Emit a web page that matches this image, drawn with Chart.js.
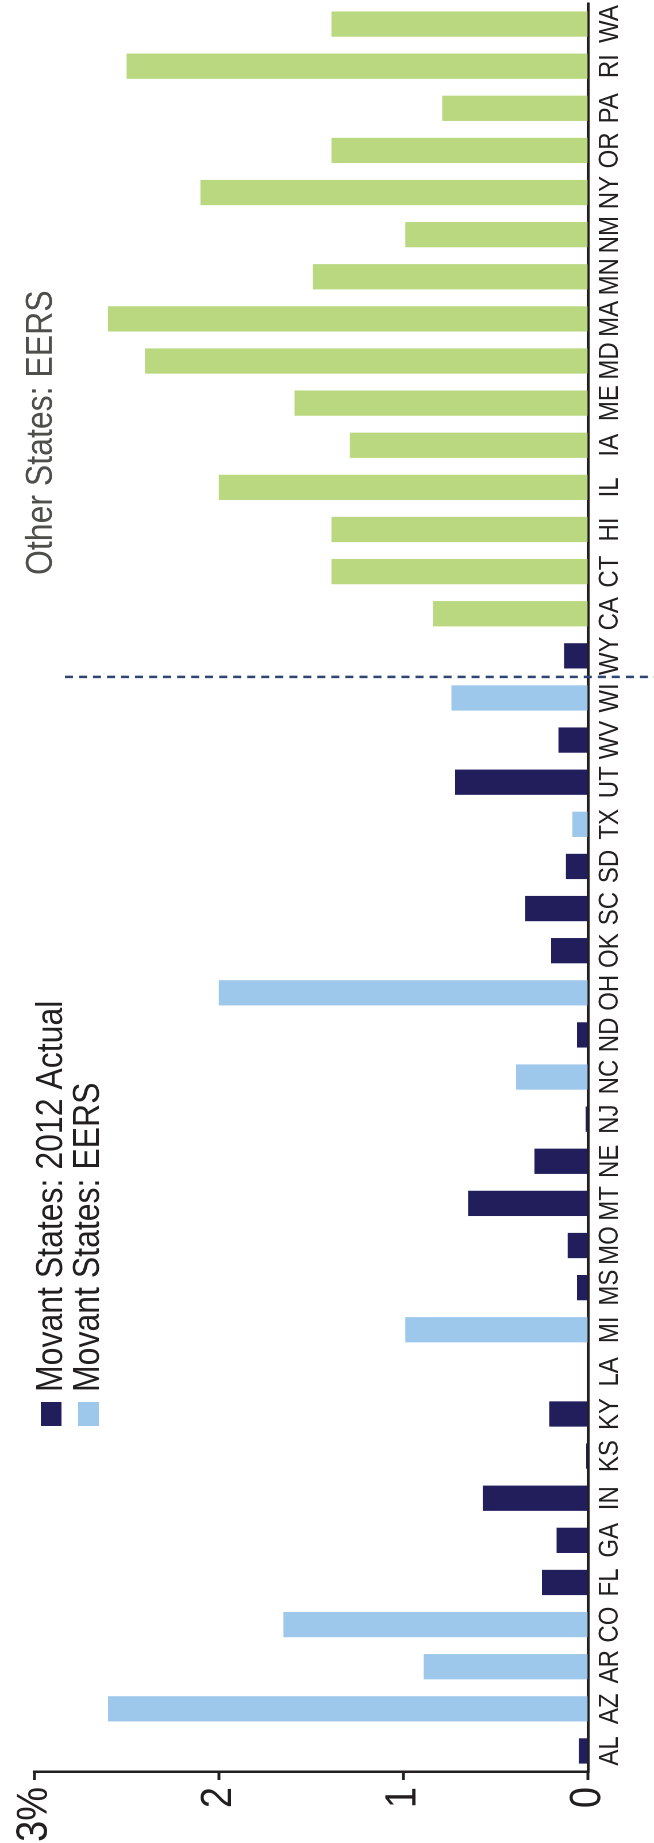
<!DOCTYPE html>
<html>
<head>
<meta charset="utf-8">
<title>Movant states vs EERS</title>
<script src="https://cdn.jsdelivr.net/npm/chart.js@4.4.0/dist/chart.umd.min.js"></script>
<style>
  body { margin: 0; background: #fff; overflow: hidden; }
  /* chart is drawn landscape, then turned on its side to fit the tall page */
  #wrap {
    position: absolute; left: 0; top: 0;
    width: 1843px; height: 569px;
    transform-origin: 0 0;
    transform: translate(0, 1843px) rotate(-90deg) scaleY(1.14938);
  }
</style>
</head>
<body>
<div id="wrap"><canvas id="chart" width="1843" height="569"></canvas></div>
<script>
// Data
const states = ['AL','AZ','AR','CO','FL','GA','IN','KS','KY','LA','MI','MS','MO','MT','NE','NJ','NC','ND','OH','OK','SC','SD','TX','UT','WV','WI','WY',
                'CA','CT','HI','IL','IA','ME','MD','MA','MN','NM','NY','OR','PA','RI','WA'];

const movantActual = [0.05,null,null,null,0.25,0.17,0.57,0.01,0.21,null,null,0.06,0.11,0.65,0.29,0.013,null,0.06,null,0.2,0.34,0.12,null,0.72,0.16,null,0.13,
                      null,null,null,null,null,null,null,null,null,null,null,null,null,null,null];

const movantEers = [null,2.6,0.89,1.65,null,null,null,null,null,null,0.99,null,null,null,null,null,0.39,null,2.0,null,null,null,0.085,null,null,0.74,null,
                    null,null,null,null,null,null,null,null,null,null,null,null,null,null,null];

const otherEers = [null,null,null,null,null,null,null,null,null,null,null,null,null,null,null,null,null,null,null,null,null,null,null,null,null,null,null,
                   0.84,1.39,1.39,2.0,1.29,1.59,2.4,2.6,1.49,0.99,2.1,1.39,0.79,2.5,1.39];

const valueTicks = [0, 1, 2, 3];
const splitAfter = 'WI';   // dashed divider sits after this state

const FONT = "'Liberation Sans', Arial, Helvetica, sans-serif";
const INK = '#231F20';

// Dashed divider, legend and the "Other States" note
const annotations = {
    id: 'annotations',
    afterDatasetsDraw(chart) {
        const ctx = chart.ctx;
        const x = chart.scales.x;
        const i = states.indexOf(splitAfter);
        const xs = (x.getPixelForValue(i) + x.getPixelForValue(i + 1)) / 2;

        ctx.save();
        ctx.strokeStyle = '#2F4572';
        ctx.lineWidth = 2.5;
        ctx.setLineDash([7, 5.2]);
        ctx.beginPath();
        ctx.moveTo(xs, 56.5);
        ctx.lineTo(xs, chart.height);
        ctx.stroke();
        ctx.setLineDash([]);

        // legend, lined up with the KY bar
        const lx = x.getPixelForValue(states.indexOf('KY'));
        ctx.fillStyle = '#221E5C';
        ctx.fillRect(lx - 12, 35.5, 24, 18);
        ctx.fillStyle = '#9DC8EB';
        ctx.fillRect(lx - 12, 68, 24, 18);

        ctx.fillStyle = INK;
        ctx.font = '32px ' + FONT;
        ctx.textBaseline = 'alphabetic';
        ctx.textAlign = 'left';
        ctx.fillText('Movant States: 2012 Actual', lx + 22, 54);
        ctx.fillText('Movant States: EERS', lx + 22, 86);

        ctx.fillStyle = '#4D4F4A';
        ctx.font = '32px ' + FONT;
        ctx.fillText('Other States: EERS', 1268, 45);
        ctx.restore();
    }
};

new Chart(document.getElementById('chart').getContext('2d'), {
    type: 'bar',
    data: {
        labels: states,
        datasets: [{
            label: 'Movant States: 2012 Actual',
            data: movantActual,
            backgroundColor: '#221E5C'
        }, {
            label: 'Movant States: EERS',
            data: movantEers,
            backgroundColor: '#9DC8EB'
        }, {
            label: 'Other States: EERS',
            data: otherEers,
            backgroundColor: '#BAD87F'
        }]
    },
    options: {
        responsive: false,
        animation: false,
        devicePixelRatio: 2,
        grouped: false,
        barPercentage: 0.6,
        categoryPercentage: 1,
        layout: {
            padding: { top: 23.5, right: 3, left: 0, bottom: 0 }
        },
        plugins: {
            legend: { display: false },
            tooltip: { enabled: false }
        },
        scales: {
            x: {
                offset: true,
                grid: { display: false, drawTicks: false },
                border: { display: true, color: INK, width: 2.5 },
                ticks: {
                    color: INK,
                    font: { family: FONT, size: 24 },
                    padding: 5,
                    maxRotation: 0,
                    autoSkip: false
                },
                afterFit: s => { s.height = 569 - 511.6; }
            },
            y: {
                min: valueTicks[0],
                max: valueTicks[valueTicks.length - 1],
                afterBuildTicks: s => { s.ticks = valueTicks.map(v => ({ value: v })); },
                grid: {
                    drawOnChartArea: false,
                    drawTicks: true,
                    tickLength: 8,
                    tickWidth: 2.5,
                    tickColor: INK
                },
                border: { display: true, color: INK, width: 2.5 },
                ticks: {
                    color: INK,
                    font: { family: FONT, size: 38 },
                    padding: 7,
                    callback: v => v === 3 ? '3%' : v
                },
                afterFit: s => { s.width = 71; }
            }
        }
    },
    plugins: [annotations]
});
</script>
</body>
</html>
